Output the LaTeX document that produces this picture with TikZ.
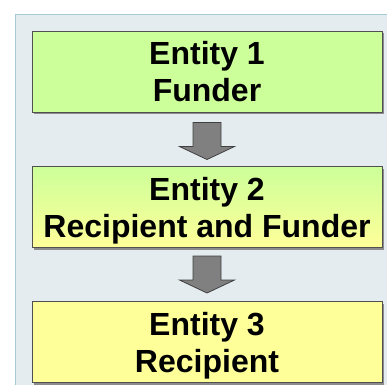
\documentclass[tikz,border=0pt]{standalone}
\usepackage{fontspec}
\setmainfont{Liberation Sans}
\usetikzlibrary{calc}
\definecolor{panelfill}{HTML}{E4ECF0}
\definecolor{panelline}{HTML}{A6CAD8}
\definecolor{greenfill}{HTML}{CCFF99}
\definecolor{yellowfill}{HTML}{FFFF99}
\definecolor{boxline}{HTML}{505050}
\definecolor{arrowfill}{HTML}{808080}
\definecolor{arrowline}{HTML}{404040}
\tikzset{
  entity/.style={draw=boxline, line width=1pt, minimum width=350pt, minimum height=81pt,
    inner sep=0pt, align=center, font=\fontsize{32}{37}\selectfont\bfseries,
    preaction={fill=black!45, transform canvas={shift={(2pt,-2pt)}}}},
  blockarrow/.style={draw=arrowline, fill=arrowfill, line width=0.8pt, line join=miter}
}
\begin{document}
\begin{tikzpicture}[x=1pt,y=-1pt]
\useasboundingbox (0,0) rectangle (387,384);
\fill[panelfill] (15.5,14.5) rectangle (390,390);
\draw[panelline, line width=1.5pt] (15.5,390) -- (15.5,14.5) -- (390,14.5);
\node[entity, fill=greenfill] (b1) at (207,71.5) {Entity 1\\\smash{Funder}};
\node[entity, top color=greenfill, bottom color=yellowfill] (b2) at (207,207) {Entity 2\\\smash{Recipient and Funder}};
\node[entity, fill=yellowfill] (b3) at (207,342) {Entity 3\\\smash{Recipient}};
\draw[blockarrow] ($(b1.south)+(-14,10)$) -- ++(28,0) -- ++(0,24) -- ++(13.5,0) -- ++(-27.5,13) -- ++(-27.5,-13) -- ++(13.5,0) -- cycle;
\draw[blockarrow] ($(b2.south)+(-14,8)$) -- ++(28,0) -- ++(0,24) -- ++(13.5,0) -- ++(-27.5,13) -- ++(-27.5,-13) -- ++(13.5,0) -- cycle;
\end{tikzpicture}
\end{document}
